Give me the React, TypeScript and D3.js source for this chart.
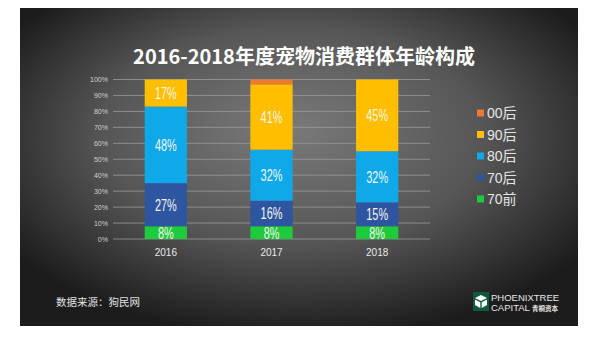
import React from 'react'
import * as d3 from 'd3'

const years = ['2016', '2017', '2018']
const groups = ['70前', '70后', '80后', '90后', '00后']
const v70q = [8, 8, 8]
const v70h = [27, 16, 15]
const v80h = [48, 32, 32]
const v90h = [17, 41, 45]
const v00h = [0, 3, 0]
const yTicks = [0, 10, 20, 30, 40, 50, 60, 70, 80, 90, 100]
const colors: any = {
  '70前': '#1ecb3c',
  '70后': '#2e56a0',
  '80后': '#0fa9ea',
  '90后': '#ffbf00',
  '00后': '#ec7a30',
}

function App() {
  const rows = years.map((y, i) => ({
    year: y,
    '70前': v70q[i],
    '70后': v70h[i],
    '80后': v80h[i],
    '90后': v90h[i],
    '00后': v00h[i],
  }))
  const series = d3.stack<any>().keys(groups)(rows)

  const x = d3.scaleBand().domain(years).range([113, 430]).paddingInner(0.6).paddingOuter(0.3)
  const y = d3.scaleLinear().domain([0, 100]).range([239, 79.5])

  // legend listed top-down in reverse stack order
  const legendItems = groups.slice().reverse()

  return (
    <svg width={591} height={353} style={{position: 'absolute', left: 0, top: 0}}>
      <defs>
        <radialGradient id="bg" cx="50%" cy="42%" r="62%" fx="48%" fy="38%">
          <stop offset="0%" stopColor="#7a7a7a" />
          <stop offset="55%" stopColor="#565656" />
          <stop offset="100%" stopColor="#1c1c1c" />
        </radialGradient>
        <clipPath id="plot">
          <rect x={100} y={70} width={350} height={169} />
        </clipPath>
      </defs>
      <rect x={0} y={0} width={591} height={353} fill="#ffffff" />
      <rect x={20} y={8} width={558} height={318} fill="url(#bg)" />

      <text
        x={304}
        y={64}
        textAnchor="middle"
        fill="#ffffff"
        fontSize={20}
        fontWeight="bold"
        fontFamily="'Noto Sans CJK SC', 'Noto Sans', sans-serif">
        2016-2018年度宠物消费群体年龄构成
      </text>

      {/* gridlines + y ticks */}
      {yTicks.map(t => (
        <g key={t}>
          <line x1={113} x2={430} y1={y(t)} y2={y(t)} stroke="#9a9a9a" strokeWidth={0.8} />
          <text
            x={108}
            y={y(t) + 2.5}
            textAnchor="end"
            fill="#d0d0d0"
            fontSize={7}
            fontFamily="'Liberation Sans', Arial, sans-serif">
            {t}%
          </text>
        </g>
      ))}

      {/* bars */}
      {series.map(s => (
        <g key={s.key} fill={colors[s.key]}>
          {s.map((d: any) =>
            d[1] - d[0] > 0 ? (
              <rect
                key={d.data.year}
                x={x(d.data.year)}
                y={y(d[1])}
                width={x.bandwidth()}
                height={y(d[0]) - y(d[1])}
              />
            ) : null,
          )}
        </g>
      ))}

      {/* value labels, condensed look */}
      <g clipPath="url(#plot)">
        {series.map(s =>
          s.map((d: any) =>
            d[1] - d[0] >= 5 ? (
              <text
                key={s.key + d.data.year}
                transform={`translate(${(x(d.data.year) as number) + x.bandwidth() / 2},${
                  (y(d[0]) + y(d[1])) / 2 + 6
                }) scale(0.66,1)`}
                textAnchor="middle"
                fill="#f4f4ec"
                fontSize={16.5}
                fontFamily="'Liberation Sans', Arial, sans-serif">
                {d[1] - d[0]}%
              </text>
            ) : null,
          ),
        )}
      </g>

      {/* x labels */}
      {years.map(yr => (
        <text
          key={yr}
          x={(x(yr) as number) + x.bandwidth() / 2}
          y={256}
          textAnchor="middle"
          fill="#e8e8e8"
          fontSize={10}
          fontFamily="'Liberation Sans', Arial, sans-serif">
          {yr}
        </text>
      ))}

      {/* legend */}
      {legendItems.map((g, i) => (
        <g key={g} transform={`translate(477, ${113 + i * 21.5})`}>
          <rect x={0} y={-3.5} width={7} height={7} fill={colors[g]} />
          <text
            x={10}
            y={5}
            fill="#e6e6e6"
            fontSize={14}
            fontFamily="'Liberation Sans', 'Noto Sans CJK SC', sans-serif">
            {g}
          </text>
        </g>
      ))}

      {/* source */}
      <text
        x={56}
        y={306}
        fill="#e0e0e0"
        fontSize={10.5}
        fontFamily="'Noto Sans CJK SC', sans-serif">
        数据来源：狗民网
      </text>

      {/* logo */}
      <g>
        <rect x={473} y={292} width={16} height={19} fill="#0e5a3a" />
        <path d="M475,298 L481,295 L487,298 L481,301 Z" fill="#ffffff" />
        <path d="M475,299.5 L480.3,302.2 L480.3,308 L475,305 Z" fill="#ffffff" />
        <path d="M487,299.5 L481.7,302.2 L481.7,308 L487,305 Z" fill="#ffffff" />
        <text x={491} y={301} fill="#e6e6e6" fontSize={9.5} fontFamily="'Liberation Sans', Arial, sans-serif">
          PHOENIXTREE
        </text>
        <text x={491} y={311} fill="#e6e6e6" fontSize={9.5} fontFamily="'Liberation Sans', Arial, sans-serif">
          CAPITAL
        </text>
        <text x={532} y={311} fill="#e6e6e6" fontSize={6.5} fontWeight="bold" fontFamily="'Noto Sans CJK SC', sans-serif">
          青桐资本
        </text>
      </g>
    </svg>
  )
}

export default App
